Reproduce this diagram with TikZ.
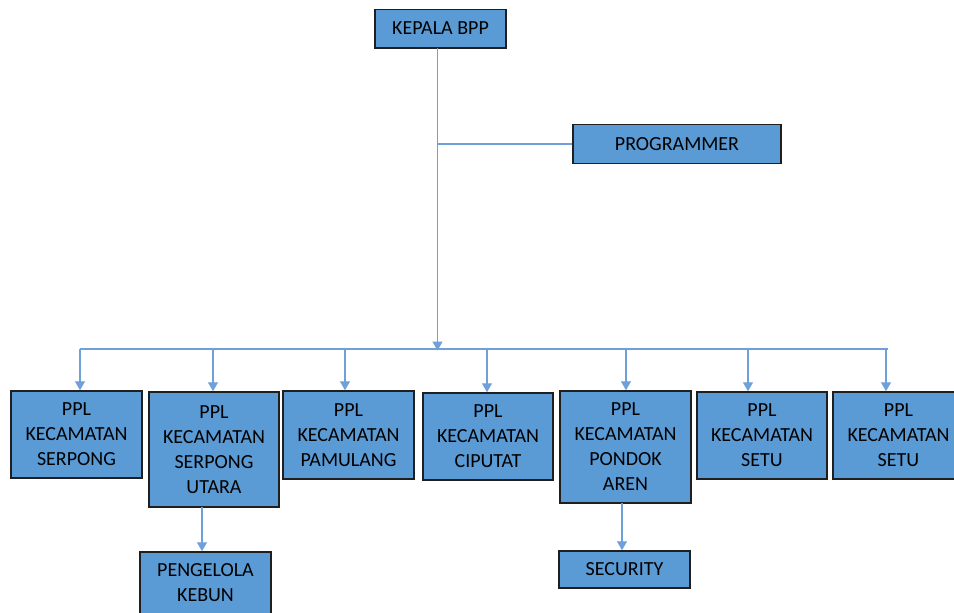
\documentclass[tikz,border=0pt]{standalone}
\usepackage{fontspec}
\setmainfont{Carlito}
\usetikzlibrary{arrows.meta}
\definecolor{boxfill}{HTML}{5B9BD5}
\definecolor{boxline}{HTML}{1F1F1F}
\definecolor{conn}{HTML}{6FA0DA}
\tikzset{
  box/.style={draw=boxline, line width=1.5pt, fill=boxfill, inner sep=0pt, align=center,
    font=\fontsize{20}{25}\selectfont, text=black},
  conline/.style={draw=conn, line width=1.4pt},
  arr/.style={conline, -{Triangle[width=10pt,length=9pt]}}
}
\begin{document}
\begin{tikzpicture}[x=1pt,y=-1pt]
\useasboundingbox (0,0) rectangle (954,613);
\fill[white] (0,0) rectangle (954,613);
\node[box, minimum width=131, minimum height=38.5] (kepala) at (440.5,28.5) {KEPALA BPP};
\node[box, minimum width=208, minimum height=39] (prog) at (677,143.8) {PROGRAMMER};

\node[box, minimum width=131, minimum height=87] (s1) at (76.5,434.5) {PPL\\KECAMATAN\\SERPONG};
\node[box, minimum width=130, minimum height=115] (s2) at (214,449.5) {PPL\\KECAMATAN\\SERPONG\\UTARA};
\node[box, minimum width=131, minimum height=88] (s3) at (348.5,435) {PPL\\KECAMATAN\\PAMULANG};
\node[box, minimum width=130, minimum height=87] (s4) at (488,436.5) {PPL\\KECAMATAN\\CIPUTAT};
\node[box, minimum width=131, minimum height=112] (s5) at (625.5,447) {PPL\\KECAMATAN\\PONDOK\\AREN};
\node[box, minimum width=130, minimum height=87] (s6) at (762,435.5) {PPL\\KECAMATAN\\SETU};
\node[box, minimum width=131, minimum height=87] (s7) at (898.5,435.5) {PPL\\KECAMATAN\\SETU};

\node[box, minimum width=131, minimum height=62] (kebun) at (205.5,583) {PENGELOLA\\KEBUN};
\node[box, minimum width=131, minimum height=37] (sec) at (624.5,569.5) {SECURITY};

\coordinate (top) at (437.5,47.7);
\coordinate (pj) at (437.5,143.8);
\coordinate (busM) at (437.5,349);
\coordinate (busL) at (80,349);
\coordinate (busR) at (888,349);
\coordinate (b1) at (80,349);
\coordinate (b2) at (213,349);
\coordinate (b3) at (345,349);
\coordinate (b4) at (487,349);
\coordinate (b5) at (626,349);
\coordinate (b6) at (748,349);
\coordinate (b7) at (886,349);
\coordinate (d2) at (202,507);
\coordinate (d5) at (622,503);

\draw[arr] (top) -- ([yshift=-1.5]busM);
\draw[conline] (pj) -- (pj -| prog.west);
\draw[conline] (busL) -- (busR);
\foreach \i in {1,...,7}{
  \draw[arr] (b\i) -- (b\i |- s\i.north);
}
\draw[arr] (d2) -- (d2 |- kebun.north);
\draw[arr] (d5) -- (d5 |- sec.north);
\end{tikzpicture}
\end{document}
